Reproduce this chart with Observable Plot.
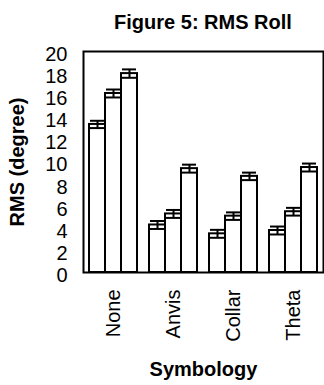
<!DOCTYPE html>
<html>
<head>
<meta charset="utf-8">
<script src="https://cdn.jsdelivr.net/npm/d3@7"></script>
<script src="https://cdn.jsdelivr.net/npm/@observablehq/plot@0.6"></script>
<style>
  body { margin: 0; background: white; font-family: 'Liberation Sans', Arial, sans-serif; }
  #title { width: 240px; margin-left: 83px; height: 40px; line-height: 44px; text-align: center; font-weight: bold; font-size: 20px; color: black; }
  g[aria-label$="axis label"] text { font-weight: bold; }
</style>
</head>
<body>
<div id="title">Figure 5: RMS Roll</div>
<div id="chart"></div>
<script>
const categories = ["None", "Anvis", "Collar", "Theta"];
const series = ["1", "2", "3"];
const rmsValues = [
  [13.4, 16.2, 18.0],
  [4.3, 5.3, 9.4],
  [3.5, 5.1, 8.7],
  [3.8, 5.5, 9.5]
];
const errValues = [
  [0.33, 0.36, 0.38],
  [0.36, 0.36, 0.36],
  [0.36, 0.34, 0.34],
  [0.36, 0.35, 0.36]
];
const yTicks = [0, 2, 4, 6, 8, 10, 12, 14, 16, 18, 20];

const data = categories.flatMap((c, i) => series.map((s, j) => ({
  group: c, series: s, value: rmsValues[i][j], err: errValues[i][j]
})));

const chart = Plot.plot({
  width: 324,
  height: 345,
  marginTop: 11,
  marginBottom: 113,
  marginLeft: 83,
  marginRight: 1,
  style: { fontFamily: "'Liberation Sans', Arial, sans-serif", fontSize: "20px", color: "black", background: "white", overflow: "visible" },
  fx: { domain: categories, padding: 0, label: "Symbology", tickRotate: -90, tickSize: 0, tickPadding: 17, labelAnchor: "center", labelOffset: 103 },
  x: { domain: series, paddingInner: 0, paddingOuter: 0.375, axis: null },
  y: { domain: [0, 20] },
  marks: [
    Plot.axisY({ ticks: yTicks, tickSize: 0, tickPadding: 16, dy: 3, label: "RMS (degree)", labelAnchor: "center", labelOffset: 74, labelArrow: "none" }),
    Plot.barY(data, { fx: "group", x: "series", y: "value", fill: "white", stroke: "black", strokeWidth: 2 }),
    Plot.ruleX(data, { fx: "group", x: "series", y1: d => d.value - d.err, y2: d => d.value + d.err, stroke: "black", strokeWidth: 2 }),
    Plot.tickY(data, { fx: "group", x: "series", y: d => d.value - d.err, stroke: "black", strokeWidth: 2, inset: 1 }),
    Plot.tickY(data, { fx: "group", x: "series", y: d => d.value + d.err, stroke: "black", strokeWidth: 2, inset: 1 }),
    Plot.frame({ stroke: "black", strokeWidth: 2, facet: "super" })
  ]
});
document.getElementById("chart").appendChild(chart);
</script>
</body>
</html>
